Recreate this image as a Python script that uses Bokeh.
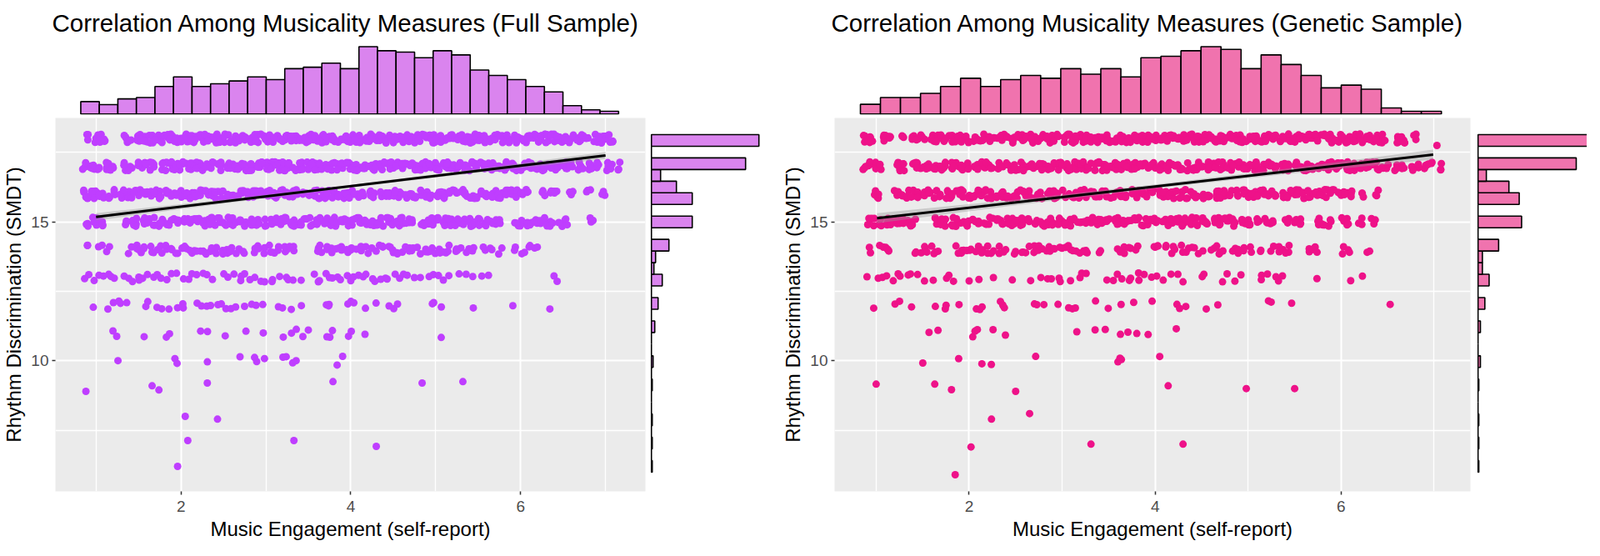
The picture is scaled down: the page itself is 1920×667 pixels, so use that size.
from bokeh.plotting import figure
from bokeh.models import Range1d, FixedTicker, ColumnDataSource, Spacer
from bokeh.layouts import row, column
from bokeh.transform import jitter
from bokeh.embed import file_html
from bokeh.resources import INLINE

FONT = "Liberation Sans"

full_title = "Correlation Among Musicality Measures (Full Sample)"
gen_title = "Correlation Among Musicality Measures (Genetic Sample)"
x_title = "Music Engagement (self-report)"
y_title = "Rhythm Discrimination (SMDT)"
x_major = [2, 4, 6]
x_minor = [1, 3, 5, 7]
y_major = [10, 15]
y_minor = [7.5, 12.5, 17.5]
y_limits = (5.30, 18.74)
full_x_limits = (0.521, 7.47)
gen_x_limits = (0.553, 7.39)

# ---------------- Full sample: engagement values per SMDT score ----------------
full_x18 = [0.91, 1.0, 1.05, 1.1, 1.34, 1.39,
    1.47, 1.52, 1.57, 1.62, 1.67, 1.72, 1.77, 1.82, 1.87, 1.92, 1.97, 2.02, 2.07, 2.12, 2.17, 2.22, 2.27, 2.32,
    2.37, 2.42, 2.47, 2.52, 2.57, 2.62, 2.67, 2.72, 2.77, 2.82, 2.87, 2.92, 2.97, 3.02, 3.07, 3.12, 3.17, 3.22,
    3.27, 3.32, 3.37, 3.42, 3.47, 3.52, 3.57, 3.62, 3.67, 3.72, 3.77, 3.82, 3.87, 3.92, 3.97, 4.02, 4.07, 4.12,
    4.17, 4.22, 4.27, 4.32, 4.37, 4.42, 4.47, 4.52, 4.57, 4.62, 4.67, 4.72, 4.77, 4.82, 4.87, 4.92, 4.97, 5.02,
    5.07, 5.12, 5.17, 5.22, 5.27, 5.32, 5.37, 5.42, 5.47, 5.52, 5.57, 5.62, 5.67, 5.72, 5.77, 5.82, 5.87, 5.92,
    5.97, 6.02, 6.07, 6.12, 6.17, 6.22, 6.27, 6.32, 6.37, 6.42, 6.47, 6.52, 6.57, 6.62, 6.67, 6.72, 6.77,
    6.88, 6.93, 6.98, 7.03, 7.08]
full_x17 = [0.86, 0.92, 0.98, 1.04, 1.1, 1.15, 1.19, 1.34, 1.4, 1.52, 1.57, 1.62, 1.67,
    1.79, 1.84, 1.89, 1.94, 1.99, 2.04, 2.09, 2.14, 2.19, 2.24, 2.29, 2.34, 2.39, 2.44, 2.49, 2.54, 2.59, 2.64,
    2.69, 2.74, 2.79, 2.84, 2.89, 2.94, 2.99, 3.04, 3.09, 3.14, 3.19, 3.24, 3.29, 3.34, 3.39, 3.44, 3.49, 3.54,
    3.59, 3.64, 3.69, 3.74, 3.79, 3.84, 3.89, 3.94, 3.99, 4.04, 4.09, 4.14, 4.19, 4.24, 4.29, 4.34, 4.39, 4.44,
    4.49, 4.54, 4.59, 4.64, 4.69, 4.74, 4.79, 4.84, 4.89, 4.94, 4.99, 5.04, 5.09, 5.14, 5.19, 5.24, 5.29, 5.34,
    5.39, 5.44, 5.49, 5.54, 5.59, 5.64, 5.69, 5.74, 5.79, 5.84, 5.89, 5.94, 5.99, 6.04, 6.09, 6.14, 6.19, 6.24,
    6.29, 6.34, 6.39, 6.44, 6.49, 6.54, 6.59,
    6.68, 6.72, 6.8, 6.84, 6.91, 7.03, 7.06, 7.15]
full_x16 = [0.86, 0.9, 0.95, 0.99, 1.04,
    1.1, 1.16, 1.22, 1.28, 1.34, 1.4, 1.46, 1.52, 1.58, 1.64, 1.7, 1.76, 1.82, 1.88, 1.94, 2.0, 2.06, 2.12,
    2.18, 2.24, 2.3, 2.36, 2.42, 2.48, 2.54, 2.6, 2.66, 2.72, 2.78, 2.84, 2.9, 2.96, 3.02, 3.08, 3.14, 3.2,
    3.26, 3.32, 3.38, 3.44, 3.5, 3.56, 3.62, 3.68, 3.74, 3.8, 3.86, 3.92, 3.98, 4.04, 4.1, 4.16, 4.22, 4.28,
    4.34, 4.4, 4.46, 4.52, 4.58, 4.64, 4.7, 4.76, 4.82, 4.88, 4.94, 5.0, 5.06, 5.12, 5.18, 5.24, 5.3, 5.36,
    5.42, 5.48, 5.54, 5.6, 5.66, 5.72, 5.78, 5.84, 5.9, 5.96, 6.02, 6.08,
    6.28, 6.34, 6.42, 6.6, 6.8, 6.98]
full_x15 = [0.91, 0.97, 1.02, 1.06, 1.37, 1.42, 1.46,
    1.55, 1.61, 1.67, 1.73, 1.79, 1.85, 1.91, 1.97, 2.03, 2.09, 2.15, 2.21, 2.27, 2.33, 2.39, 2.45, 2.51,
    2.57, 2.63, 2.69, 2.75, 2.81, 2.87, 2.93, 2.99, 3.05, 3.11, 3.17, 3.23, 3.29, 3.35, 3.41, 3.47, 3.53,
    3.59, 3.65, 3.71, 3.77, 3.83, 3.89, 3.95, 4.01, 4.07, 4.13, 4.19, 4.25, 4.31, 4.37, 4.43, 4.49, 4.55, 4.6,
    4.67, 4.74,
    4.85, 4.91, 4.97, 5.03, 5.09, 5.15, 5.21, 5.27, 5.33, 5.39, 5.45, 5.51, 5.57, 5.63, 5.69, 5.75,
    5.95, 6.0, 6.06, 6.12, 6.18, 6.22, 6.3, 6.36, 6.47, 6.53, 6.83]
full_x14 = [0.9, 1.05, 1.14, 1.4, 1.46, 1.52, 1.58, 1.64, 1.7, 1.76, 1.82, 1.88, 1.94, 2.0, 2.06, 2.12,
    2.18, 2.24, 2.3, 2.36, 2.42, 2.48, 2.54, 2.6, 2.66, 2.72, 2.85, 2.91, 2.97, 3.03, 3.09, 3.15, 3.21, 3.27,
    3.33, 3.6, 3.66, 3.72, 3.78, 3.84, 3.9, 3.96, 4.02, 4.08, 4.14, 4.2, 4.26, 4.32, 4.38, 4.44, 4.5, 4.56,
    4.62, 4.68, 4.74, 4.8, 4.86, 4.92, 4.98, 5.04, 5.1, 5.16, 5.22, 5.28, 5.38, 5.43, 5.58, 5.66, 5.76,
    5.95, 6.03, 6.12, 6.18]
full_x13 = [0.88, 0.93, 0.98, 1.03, 1.08, 1.13, 1.18, 1.22, 1.34, 1.4, 1.45, 1.49, 1.52, 1.57, 1.62, 1.67,
    1.72, 1.77, 1.82, 1.89, 1.95, 2.01, 2.07, 2.13, 2.19, 2.25, 2.31, 2.38, 2.5, 2.56, 2.62, 2.68, 2.73, 2.77,
    2.83, 2.89, 2.95, 3.0, 3.05, 3.1, 3.16, 3.22, 3.28, 3.34, 3.4, 3.55, 3.6, 3.65, 3.7, 3.75, 3.8, 3.85,
    3.9, 3.95, 4.0, 4.05, 4.1, 4.15, 4.2, 4.25, 4.3, 4.35, 4.4, 4.45, 4.5, 4.56, 4.62, 4.68, 4.74, 4.84,
    4.9, 4.96, 5.02, 5.08, 5.14, 5.26, 5.38, 5.45, 5.52, 5.63, 6.37, 6.43]
full_x12 = [0.96, 1.16, 1.2, 1.25, 1.29, 1.38, 1.58, 1.63, 1.7, 1.77, 1.86, 1.95, 2.0, 2.04, 2.2, 2.25, 2.29,
    2.35, 2.42, 2.48, 2.55, 2.6, 2.65, 2.77, 2.83, 2.9, 2.95, 3.16, 3.22, 3.31, 3.43, 3.7, 3.73, 3.76, 3.97,
    4.0, 4.03, 4.17, 4.29, 4.47, 4.5, 4.53, 4.96, 5.0, 5.08, 5.45, 5.93, 6.35]
full_x11 = [1.21, 1.24, 1.58, 1.82, 1.88, 2.24, 2.3, 2.5, 2.74, 2.95, 3.21, 3.28, 3.34, 3.43, 3.52, 3.7,
    3.73, 3.79, 3.97, 4.03, 4.17, 5.08]
full_x10 = [1.24, 1.95, 1.96, 2.31, 2.71, 2.86, 2.9, 2.99, 3.19, 3.25, 3.31, 3.37, 3.86, 3.92]
# participants per listed engagement value, per score row (18 ... 10)
full_reps = [3, 3, 3, 3, 2, 1, 1, 1, 1]
full_sparse_x = [0.88, 1.66, 1.74, 2.31, 3.79, 4.84, 5.32, 2.05, 2.43, 2.08, 3.33, 4.3, 1.96]
full_sparse_y = [8.9, 9.1, 8.95, 9.2, 9.25, 9.2, 9.25, 8.0, 7.9, 7.13, 7.13, 6.92, 6.2]

full_fit_x = [1.0, 7.0]
full_fit_y = [15.18, 17.39]
full_band_x = [1.0, 2.5, 4.0, 5.5, 7.0]
full_band_lo = [15.05, 15.66, 16.235, 16.77, 17.26]
full_band_hi = [15.31, 15.80, 16.335, 16.91, 17.52]

full_xbin_start = 0.857
full_xbin_width = 0.2172
full_x_counts = [15, 11.3, 18.3, 20, 33.3, 45, 33.3, 36.7, 40, 45, 41.7, 55, 56.7, 61.7, 55, 81.7, 76.7, 75,
    68.3, 76.7, 71.7, 53.3, 46.7, 41.7, 33.3, 26.7, 10, 5, 3.3]
ybin_start = 5.99
ybin_width = 0.419
full_y_counts = [1, 0, 1, 0, 1, 0, 0, 1, 0, 2, 0, 0, 4, 0, 8, 0, 13, 3, 5, 21, 0, 49, 0, 49, 30, 11, 113, 0, 129]

# ---------------- Genetic sample ----------------
gen_x18 = [0.87, 0.91, 0.95, 1.06, 1.1, 1.14, 1.28, 1.39, 1.45, 1.5, 1.61, 1.65, 1.69,
    1.74, 1.8, 1.86, 1.92, 1.98, 2.04, 2.1, 2.16, 2.22, 2.28, 2.34, 2.4, 2.46,
    2.51, 2.56, 2.61, 2.66, 2.71, 2.76, 2.81, 2.86, 2.91, 2.96, 3.01, 3.06, 3.11, 3.16, 3.21, 3.26, 3.31,
    3.36, 3.41, 3.46, 3.51, 3.56, 3.61, 3.66, 3.71, 3.76, 3.81, 3.86, 3.91, 3.96, 4.01, 4.06, 4.11, 4.16,
    4.21, 4.26, 4.31, 4.36, 4.41, 4.46, 4.51, 4.56, 4.61, 4.66, 4.71, 4.76, 4.81, 4.86, 4.91, 4.96, 5.01,
    5.06, 5.11, 5.16, 5.21, 5.26, 5.31, 5.36, 5.41, 5.46, 5.51, 5.56, 5.61, 5.66, 5.71, 5.76, 5.81, 5.86,
    5.91, 5.96, 6.01, 6.06, 6.11, 6.16, 6.21, 6.26, 6.31, 6.36, 6.41, 6.46,
    6.6, 6.64, 6.68, 6.79]
gen_x17 = [0.87, 0.92, 0.98, 1.03, 1.22, 1.26, 1.3, 1.41, 1.46, 1.52, 1.58, 1.63, 1.68, 1.72,
    1.8, 1.85, 1.9, 1.95, 2.0, 2.05, 2.1, 2.15, 2.2, 2.25, 2.3, 2.35, 2.4, 2.45, 2.5, 2.55, 2.6, 2.65, 2.7,
    2.75, 2.8, 2.85, 2.9, 2.95, 3.0, 3.05, 3.1, 3.15, 3.2, 3.25, 3.3, 3.35, 3.4, 3.45, 3.5, 3.55, 3.6, 3.65,
    3.7, 3.75, 3.8, 3.85, 3.9, 3.95, 4.0, 4.05, 4.1, 4.15, 4.2, 4.25, 4.3, 4.35, 4.4, 4.45, 4.5, 4.55, 4.6,
    4.65, 4.7, 4.75, 4.8, 4.85, 4.9, 4.95, 5.0, 5.05, 5.1, 5.15, 5.2, 5.25, 5.3, 5.35, 5.4, 5.45, 5.5, 5.55,
    5.6, 5.65, 5.7, 5.75, 5.8, 5.85, 5.9, 5.95, 6.0, 6.05, 6.1, 6.15, 6.2, 6.25, 6.3, 6.35, 6.4, 6.45, 6.5,
    6.6, 6.66, 6.75, 6.84, 6.9, 6.96, 7.09]
gen_x16 = [0.98, 1.03,
    1.22, 1.28, 1.34, 1.4, 1.46, 1.52, 1.58, 1.64, 1.7, 1.76, 1.82, 1.88, 1.94, 2.0, 2.06, 2.12, 2.18, 2.24,
    2.3, 2.36, 2.42, 2.48, 2.54, 2.6, 2.66, 2.72, 2.78, 2.84, 2.9, 2.96, 3.02, 3.08, 3.14, 3.2, 3.26, 3.32,
    3.38, 3.44, 3.5, 3.56, 3.62, 3.68, 3.74, 3.8, 3.86, 3.92, 3.98, 4.04, 4.1, 4.16, 4.22, 4.28, 4.34, 4.4,
    4.46, 4.52, 4.58, 4.64, 4.7, 4.76, 4.82, 4.88, 4.94, 5.0, 5.06, 5.12, 5.18, 5.24, 5.3, 5.36, 5.42, 5.48,
    5.54, 5.6, 5.66, 5.72, 5.78, 5.84, 5.9,
    5.99, 6.04, 6.1, 6.24, 6.38]
gen_x15 = [0.92, 0.97, 1.03, 1.11, 1.17, 1.24, 1.3, 1.36, 1.41,
    1.63, 1.69, 1.75, 1.81, 1.87, 1.93, 1.99, 2.05, 2.11, 2.17, 2.23, 2.29, 2.35, 2.41, 2.47, 2.53, 2.59,
    2.65, 2.71, 2.77, 2.83, 2.89, 2.95, 3.01, 3.07, 3.13, 3.19, 3.25, 3.31, 3.37, 3.43, 3.49, 3.55, 3.61,
    3.67, 3.73, 3.79, 3.85, 3.91, 3.97, 4.03, 4.09, 4.15, 4.21, 4.27, 4.33, 4.39, 4.45, 4.51, 4.57, 4.63,
    4.69, 4.75, 4.81, 4.87, 4.93, 4.99, 5.03,
    5.12, 5.18, 5.26, 5.42, 5.5, 5.58, 5.75, 5.81, 5.88, 6.02, 6.08, 6.21, 6.35]
gen_x14 = [0.92, 1.06, 1.1, 1.14, 1.44, 1.5, 1.55, 1.61, 1.66, 1.88, 1.92, 1.96, 2.02, 2.08, 2.14, 2.2,
    2.26, 2.32, 2.38, 2.51, 2.57, 2.63, 2.69, 2.75, 2.81, 2.87, 2.93, 2.99, 3.05, 3.11, 3.17, 3.23, 3.28,
    3.39, 3.61, 3.67, 3.73, 3.8, 3.99, 4.05, 4.11, 4.17, 4.23, 4.29, 4.35, 4.41, 4.49, 4.62, 4.67, 4.71,
    4.84, 4.9, 4.96, 5.01, 5.14, 5.25, 5.31, 5.38, 5.45, 5.64, 5.68, 5.72, 6.02, 6.08, 6.3]
gen_x13 = [0.92, 1.03, 1.08, 1.13, 1.18, 1.22, 1.28, 1.33, 1.39, 1.44, 1.5, 1.63, 1.74, 1.8, 1.85, 2.02,
    2.1, 2.24, 2.46, 2.68, 2.79, 2.84, 2.9, 2.95, 3.0, 3.09, 3.17, 3.21, 3.25, 3.5, 3.55, 3.6, 3.65, 3.7,
    3.75, 3.8, 3.85, 3.9, 3.95, 4.0, 4.07, 4.18, 4.24, 4.29, 4.49, 4.54, 4.71, 4.76, 4.87, 4.92, 5.12, 5.16,
    5.2, 5.31, 5.35, 5.39, 5.75, 6.1, 6.21]
gen_x12 = [0.97, 1.22, 1.25, 1.4, 1.63, 1.74, 1.77, 1.89, 2.1, 2.12, 2.14, 2.32, 2.36, 2.4, 2.69, 2.72,
    2.79, 2.94, 3.09, 3.12, 3.14, 3.36, 3.49, 3.63, 3.79, 3.96, 4.21, 4.26, 4.32, 4.57, 4.69, 5.2, 5.26,
    5.48, 6.54]
gen_x11 = [1.59, 1.66, 2.05, 2.08, 2.1, 2.25, 2.4, 3.15, 3.34, 3.44, 3.62, 3.71, 3.82, 3.93, 4.24]
gen_x10 = [1.52, 1.89, 2.13, 2.23, 2.71, 3.58, 3.62, 3.65, 4.06]
gen_reps = [3, 3, 3, 3, 2, 1, 1, 1, 1]
gen_sparse_x = [7.03, 1.0, 1.63, 1.81, 2.5, 4.14, 4.98, 5.5, 2.24, 2.65, 2.02, 3.31, 4.3, 1.85]
gen_sparse_y = [17.75, 9.16, 9.16, 8.96, 8.9, 9.1, 9.0, 9.0, 7.9, 8.1, 6.9, 7.0, 7.0, 5.9]

gen_fit_x = [1.01, 6.99]
gen_fit_y = [15.13, 17.42]
gen_band_x = [1.01, 2.5, 4.0, 5.5, 6.99]
gen_band_lo = [14.95, 15.60, 16.205, 16.75, 17.24]
gen_band_hi = [15.31, 15.80, 16.345, 16.95, 17.60]

gen_xbin_start = 0.865
gen_xbin_width = 0.2143
gen_x_counts = [11.7, 20, 20, 25, 33.3, 43.3, 33.3, 41.7, 46.7, 43.3, 55, 48.3, 55, 45, 68.3, 70, 76.7,
    81.7, 78.3, 55, 71.7, 60, 46.7, 31.7, 35, 30, 7.3, 3.3, 3.3]
gen_y_counts = [1, 0, 1, 0, 1, 0, 0, 1, 0, 3, 0, 0, 3, 0, 8.6, 0, 14, 5.5, 5.5, 26, 0, 55, 0, 52, 39, 10.5,
    124, 0, 138]

score_levels = [18, 17, 16, 15, 14, 13, 12, 11, 10]
full_rows = [full_x18, full_x17, full_x16, full_x15, full_x14, full_x13, full_x12, full_x11, full_x10]
gen_rows = [gen_x18, gen_x17, gen_x16, gen_x15, gen_x14, gen_x13, gen_x12, gen_x11, gen_x10]


def points_from(rows, reps):
    xs, ys = [], []
    for level, vals, rep in zip(score_levels, rows, reps):
        xs += vals * rep
        ys += [level] * (len(vals) * rep)
    return xs, ys


def make_panel(title, rows, reps, sx, sy, fit_x, fit_y, band_x, band_lo, band_hi,
               xb0, xbw, xcounts, ycounts, xlim, point_col, hist_col,
               frame_w, right_border, side_w, side_max):
    left_border = 62
    main_w = left_border + frame_w + right_border
    xr = Range1d(*xlim)
    yr = Range1d(*y_limits)

    main = figure(width=main_w, height=510, x_range=xr, y_range=yr,
                  output_backend="svg", toolbar_location=None,
                  min_border_left=left_border, min_border_right=right_border,
                  min_border_top=0, min_border_bottom=62,
                  background_fill_color="#EBEBEB", border_fill_color="white",
                  outline_line_color=None)
    main.xaxis.ticker = FixedTicker(ticks=x_major, minor_ticks=x_minor)
    main.yaxis.ticker = FixedTicker(ticks=y_major, minor_ticks=y_minor)
    main.grid.grid_line_color = "white"
    main.grid.grid_line_width = 2
    main.grid.minor_grid_line_color = "white"
    main.grid.minor_grid_line_width = 1.3
    main.axis.axis_line_color = None
    main.axis.major_tick_line_color = "#333333"
    main.axis.major_tick_line_width = 1.5
    main.axis.major_tick_out = 4
    main.axis.major_tick_in = 0
    main.axis.minor_tick_line_color = None
    main.axis.major_label_text_font = FONT
    main.axis.major_label_text_font_size = "19px"
    main.axis.major_label_text_color = "#4D4D4D"
    main.axis.axis_label_text_font = FONT
    main.axis.axis_label_text_font_size = "24px"
    main.axis.axis_label_text_font_style = "normal"
    main.axis.axis_label_text_color = "black"
    main.xaxis.major_label_standoff = 7
    main.xaxis.axis_label_standoff = 4
    main.yaxis.major_label_standoff = 4
    main.yaxis.axis_label_standoff = 4
    main.xaxis.axis_label = x_title
    main.yaxis.axis_label = y_title

    xs, ys = points_from(rows, reps)
    src = ColumnDataSource(dict(x=xs, y=ys))
    main.scatter(jitter("x", width=0.05, distribution="uniform"),
                 jitter("y", width=0.32, distribution="uniform"), source=src,
                 size=9, fill_color=point_col, line_color=None)
    main.scatter(sx, sy, size=9, fill_color=point_col, line_color=None)
    main.varea(x=band_x, y1=band_lo, y2=band_hi, fill_color="#999999", fill_alpha=0.4)
    main.line(fit_x, fit_y, line_color="black", line_width=3)

    top = figure(width=main_w, height=141, x_range=xr, y_range=Range1d(-0.8, 86.2),
                 x_axis_type=None, y_axis_type=None, title=title,
                 output_backend="svg", toolbar_location=None,
                 min_border_left=left_border, min_border_right=right_border,
                 min_border_top=50, min_border_bottom=4,
                 background_fill_color="white", border_fill_color="white",
                 outline_line_color=None)
    top.title.align = "left"
    top.title.text_font = FONT
    top.title.text_font_size = "29.5px"
    top.title.text_font_style = "normal"
    top.title.text_color = "black"
    top.title.standoff = 16
    lefts = [xb0 + i * xbw for i in range(len(xcounts))]
    rights = [v + xbw for v in lefts]
    top.quad(left=lefts, right=rights, bottom=0, top=xcounts,
             fill_color=hist_col, line_color="black", line_width=1.6)

    side = figure(width=side_w, height=510, x_range=Range1d(-1.2, side_max), y_range=yr,
                  x_axis_type=None, y_axis_type=None,
                  output_backend="svg", toolbar_location=None,
                  min_border_left=0, min_border_right=0, min_border_top=0, min_border_bottom=62,
                  background_fill_color="white", border_fill_color="white",
                  outline_line_color=None)
    bottoms = [ybin_start + k * ybin_width for k in range(len(ycounts))]
    tops = [b + ybin_width for b in bottoms]
    side.quad(left=0, right=ycounts, bottom=bottoms, top=tops,
              fill_color=hist_col, line_color="black", line_width=1.6)

    return column(row(top, Spacer(width=side_w, height=141)), row(main, side))


left_panel = make_panel(full_title, full_rows, full_reps, full_sparse_x, full_sparse_y,
                        full_fit_x, full_fit_y, full_band_x, full_band_lo, full_band_hi,
                        full_xbin_start, full_xbin_width, full_x_counts, full_y_counts,
                        full_x_limits, "#BF3EFF", "#DA84EE",
                        frame_w=712, right_border=6, side_w=155, side_max=153.8)
right_panel = make_panel(gen_title, gen_rows, gen_reps, gen_sparse_x, gen_sparse_y,
                         gen_fit_x, gen_fit_y, gen_band_x, gen_band_lo, gen_band_hi,
                         gen_xbin_start, gen_xbin_width, gen_x_counts, gen_y_counts,
                         gen_x_limits, "#EE1289", "#F073AE",
                         frame_w=767, right_border=8, side_w=132, side_max=137.7)

page = row(left_panel, right_panel)

with open("out.html", "w") as f:
    f.write(file_html(page, INLINE))
